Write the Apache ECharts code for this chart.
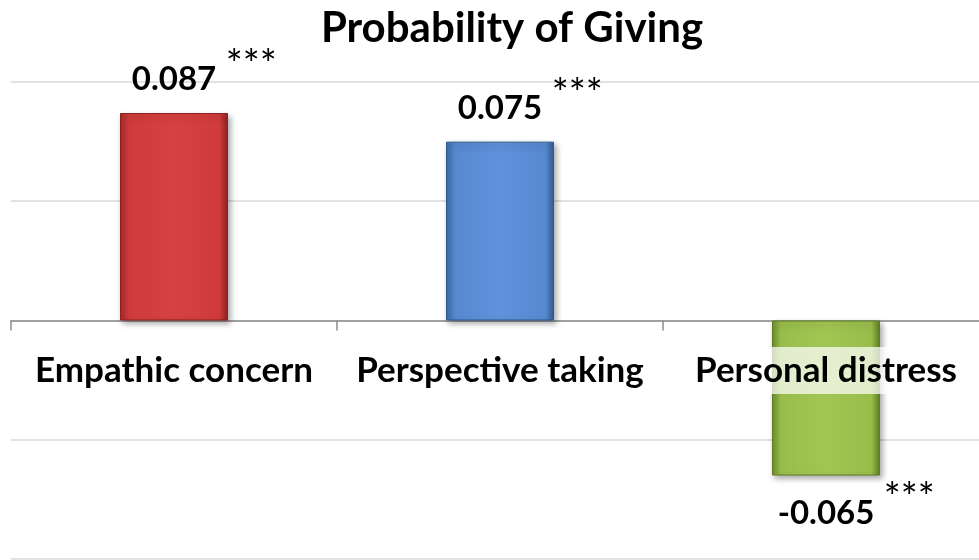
<!DOCTYPE html>
<html><head><meta charset="utf-8">
<script src="https://cdn.jsdelivr.net/npm/echarts@6/dist/echarts.min.js"></script>
<style>html,body{margin:0;padding:0;background:#fff}#c{width:979px;height:560px}</style>
</head><body><div id="c"></div>
<script>
const categories = ['Empathic concern', 'Perspective taking', 'Personal distress'];
const values = [0.087, 0.075, -0.065];
const stars = ['***', '***', '***'];
const colors = [
  ['#a82a2a', '#cf3b3b', '#d64141', '#cf3b3b', '#8f2020'],
  ['#3a6aa8', '#5689d0', '#5f92da', '#5689d0', '#2f5a92'],
  ['#6f8f2c', '#98bd4a', '#a2c652', '#98bd4a', '#5f7c24']
];
const FONT = 'Lato';
const chart = echarts.init(document.getElementById('c'));
const data = values.map((v, i) => ({
  value: v,
  itemStyle: {
    color: {type: 'linear', x: 0, y: 0, x2: 1, y2: 0, colorStops: [
      {offset: 0, color: colors[i][0]}, {offset: 0.08, color: colors[i][1]},
      {offset: 0.5, color: colors[i][2]}, {offset: 0.92, color: colors[i][3]},
      {offset: 1, color: colors[i][4]}]},
    borderColor: colors[i][4], borderWidth: 1,
    shadowColor: 'rgba(0,0,0,0.35)', shadowBlur: 6, shadowOffsetX: 2, shadowOffsetY: 3
  },
  label: {
    show: true,
    position: v >= 0 ? 'top' : 'bottom',
    distance: v >= 0 ? 0 : 4,
    formatter: '{pad|}{v|' + v.toFixed(3) + '}{s|' + stars[i] + '}',
    rich: {
      pad: {width: 60},
      v: {fontFamily: FONT, fontWeight: 'bold', fontSize: 33, color: '#000', padding: [0, 10, 0, 0]},
      s: {fontFamily: FONT, fontSize: 40, color: '#000', width: 50, padding: [0, 0, 27, 0], verticalAlign: 'bottom'}
    }
  }
}));
chart.setOption({
  animation: false,
  title: {text: 'Probability of Giving', left: 507, textAlign: 'center', top: 2,
    textStyle: {fontFamily: FONT, fontWeight: 'bold', fontSize: 42, color: '#000'}},
  grid: {left: 11, right: -10, top: 82, bottom: 1, containLabel: false, outerBoundsMode: 'none'},
  xAxis: [{
    type: 'category', data: categories,
    axisLine: {onZero: true, lineStyle: {color: '#8c8c8c', width: 1.5}},
    axisTick: {show: true, length: 10, lineStyle: {color: '#8c8c8c', width: 1.5}},
    axisLabel: {show: false}
  }, {
    type: 'category', data: categories, position: 'bottom',
    axisLine: {show: false, onZero: false}, axisTick: {show: false},
    axisLabel: {
      margin: -212, fontFamily: FONT, fontWeight: 'bold', fontSize: 35, color: '#000', interval: 0,
      backgroundColor: 'rgba(255,255,255,0.72)', padding: [6, 0, 6, 0]
    },
    z: 10
  }],
  yAxis: {
    type: 'value', min: -0.1, max: 0.1, interval: 0.05,
    axisLabel: {show: false}, axisLine: {show: false}, axisTick: {show: false},
    splitLine: {lineStyle: {color: '#d9d9d9', width: 1.5}}
  },
  series: [{type: 'bar', data: data, barWidth: 108}]
});
</script></body></html>
